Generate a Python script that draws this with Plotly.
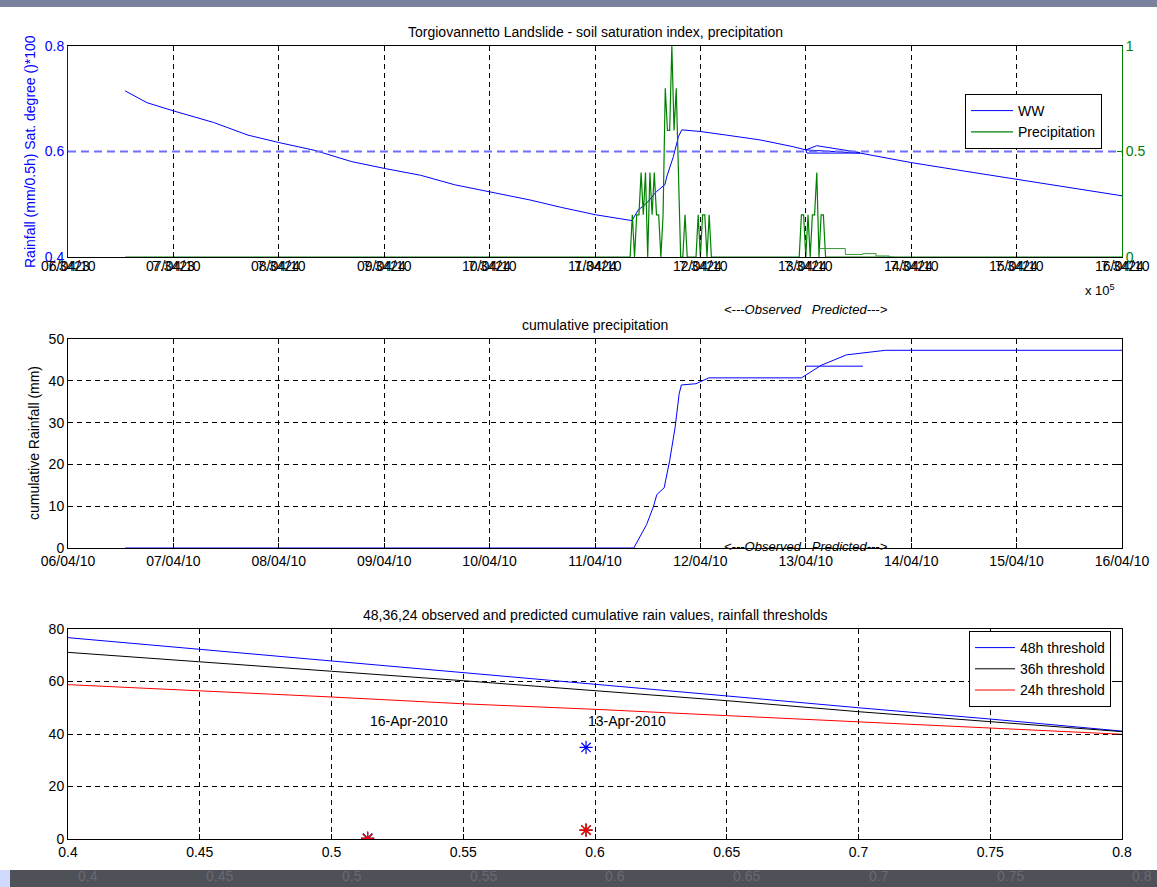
import plotly.graph_objects as go
import pandas as pd

FONT = "Liberation Sans Narrow, Liberation Sans, Arial, sans-serif"

# ---------------- DATA ----------------
day_ticks = ["2010-04-06", "2010-04-07", "2010-04-08", "2010-04-09", "2010-04-10", "2010-04-11",
             "2010-04-12", "2010-04-13", "2010-04-14", "2010-04-15", "2010-04-16"]
day_labels = ["06/04/10", "07/04/10", "08/04/10", "09/04/10", "10/04/10", "11/04/10",
              "12/04/10", "13/04/10", "14/04/10", "15/04/10", "16/04/10"]
datenum_labels = ["7.3423", "7.3423", "7.3424", "7.3424", "7.3424", "7.3424",
                  "7.3424", "7.3424", "7.3424", "7.3424", "7.3424"]
sat_ticks = [0.4, 0.6, 0.8]
rain_ticks = [0, 0.5, 1]

# soil saturation index (WW)
ww_time = ["2010-04-06 13:00", "2010-04-06 18:00", "2010-04-07 00:00", "2010-04-07 09:10",
           "2010-04-07 17:00", "2010-04-08 00:00", "2010-04-08 08:15", "2010-04-08 16:30",
           "2010-04-09 00:00", "2010-04-09 08:15", "2010-04-09 16:00", "2010-04-10 00:00",
           "2010-04-10 09:15", "2010-04-10 16:20", "2010-04-11 00:10", "2010-04-11 08:25",
           "2010-04-11 09:50", "2010-04-11 11:45", "2010-04-11 14:00", "2010-04-11 15:55",
           "2010-04-11 16:20", "2010-04-11 17:50", "2010-04-11 19:00", "2010-04-11 19:45",
           "2010-04-11 23:55", "2010-04-12 06:00", "2010-04-12 13:35", "2010-04-12 21:10",
           "2010-04-13 00:00", "2010-04-13 12:20", "2010-04-14 00:00", "2010-04-14 12:00",
           "2010-04-15 00:00", "2010-04-15 12:00", "2010-04-16 00:00"]
ww_value = [0.715, 0.6925, 0.677, 0.655, 0.631, 0.617, 0.602, 0.581,
            0.568, 0.555, 0.537, 0.524, 0.508, 0.494, 0.480, 0.469,
            0.489, 0.502, 0.524, 0.537, 0.552, 0.590, 0.628, 0.641,
            0.638, 0.631, 0.622, 0.609, 0.603, 0.597, 0.579, 0.563,
            0.547, 0.531, 0.516]
ww_pred_upper_time = ["2010-04-13 00:00", "2010-04-13 02:30", "2010-04-13 07:45", "2010-04-13 12:20"]
ww_pred_upper_value = [0.603, 0.611, 0.604, 0.598]
ww_pred_lower_time = ["2010-04-13 00:00", "2010-04-13 00:15", "2010-04-13 12:20"]
ww_pred_lower_value = [0.603, 0.597, 0.597]

# half-hourly precipitation (mm/0.5h), zero outside the rain blocks
precip_first = "2010-04-06 13:00"
precip_last = "2010-04-16 00:00"
precip_block_start = ["2010-04-11 08:30", "2010-04-11 23:30", "2010-04-12 23:00"]
precip_block_values = [
    [0.2, 0, 0.2, 0.2, 0.4, 0.2, 0.4, 0, 0.4, 0.2, 0.4, 0.2, 0.2, 0, 0.2,
     0.8, 0.6, 0.6, 1.0, 0.6, 0.8, 0.4, 0, 0, 0.2, 0],
    [0.2, 0, 0.2, 0.2, 0, 0.2, 0],
    [0.2, 0.2, 0, 0.2, 0, 0.2, 0.2, 0.4, 0, 0.2, 0.2, 0],
]
# predicted precipitation tail
precip_pred_time = ["2010-04-13 03:00", "2010-04-13 09:00", "2010-04-13 13:00",
                    "2010-04-13 16:00", "2010-04-13 19:00", "2010-04-13 20:00"]
precip_pred_value = [0.04, 0.012, 0.016, 0.005, 0.0, 0.0]

# cumulative precipitation (mm)
cum_time = ["2010-04-06 13:00", "2010-04-11 08:50", "2010-04-11 11:45", "2010-04-11 13:20",
            "2010-04-11 14:05", "2010-04-11 15:45", "2010-04-11 17:00", "2010-04-11 18:15",
            "2010-04-11 19:10", "2010-04-11 19:40", "2010-04-11 23:00", "2010-04-12 01:55",
            "2010-04-12 23:00", "2010-04-13 01:05", "2010-04-13 03:30", "2010-04-13 09:15",
            "2010-04-13 18:10", "2010-04-16 00:00"]
cum_value = [0, 0, 5.6, 10.0, 12.8, 14.4, 20.9, 28.9, 36.9, 39.0, 39.3, 40.7,
             40.7, 42.1, 43.7, 46.2, 47.3, 47.3]
cum_pred_time = ["2010-04-13 00:00", "2010-04-13 13:00"]
cum_pred_value = [43.5, 43.5]

# rainfall thresholds vs saturation
sat_degree = [0.40, 0.45, 0.50, 0.55, 0.60, 0.65, 0.70, 0.75, 0.80]
sat_labels = ["0.4", "0.45", "0.5", "0.55", "0.6", "0.65", "0.7", "0.75", "0.8"]
thr_48h = [76.7, 72.3, 67.8, 63.4, 59.0, 54.5, 50.0, 45.7, 41.1]
thr_36h = [71.1, 67.4, 63.9, 60.3, 56.5, 52.7, 48.5, 44.7, 40.9]
thr_24h = [58.8, 56.5, 54.1, 51.5, 49.4, 47.0, 44.6, 42.2, 39.9]

# observed / predicted cumulative rain points
pt_labels = ["16-Apr-2010", "13-Apr-2010"]
pt_sat = [0.5137, 0.5966]
pt_48h = [0.2, 34.9]
pt_36h = [0.2, 3.4]
pt_24h = [0.2, 3.4]
label_height = 45

# ---------------- BUILD ----------------
full_idx = pd.date_range(precip_first, precip_last, freq="30min")
precip = pd.Series(0.0, index=full_idx)
for start, vals in zip(precip_block_start, precip_block_values):
    idx = pd.date_range(start, periods=len(vals), freq="30min")
    precip.loc[idx] = vals

BLUE, GREEN, RED = "#0000ff", "#008000", "#ff0000"

fig = go.Figure()
fig.add_trace(go.Scatter(x=ww_time, y=ww_value, mode="lines", name="WW",
                         line=dict(color=BLUE, width=1), xaxis="x", yaxis="y", legend="legend"))
fig.add_trace(go.Scatter(x=ww_pred_upper_time, y=ww_pred_upper_value, mode="lines", showlegend=False,
                         line=dict(color=BLUE, width=1), xaxis="x", yaxis="y"))
fig.add_trace(go.Scatter(x=ww_pred_lower_time, y=ww_pred_lower_value, mode="lines", showlegend=False,
                         line=dict(color=BLUE, width=1), xaxis="x", yaxis="y"))
fig.add_trace(go.Scatter(x=precip.index, y=precip.values, mode="lines", name="Precipitation",
                         line=dict(color=GREEN, width=1.2), xaxis="x", yaxis="y4", legend="legend"))
fig.add_trace(go.Scatter(x=precip_pred_time, y=precip_pred_value, mode="lines", showlegend=False,
                         line=dict(color="#3a9a3a", width=1, shape="hv"), xaxis="x", yaxis="y4"))

fig.add_trace(go.Scatter(x=cum_time, y=cum_value, mode="lines", showlegend=False,
                         line=dict(color=BLUE, width=1), xaxis="x2", yaxis="y2"))
fig.add_trace(go.Scatter(x=cum_pred_time, y=cum_pred_value, mode="lines", showlegend=False,
                         line=dict(color=BLUE, width=1), xaxis="x2", yaxis="y2"))

for name, vals, col in [("48h threshold", thr_48h, BLUE), ("36h threshold", thr_36h, "#000000"),
                        ("24h threshold", thr_24h, RED)]:
    fig.add_trace(go.Scatter(x=sat_degree, y=vals, mode="lines", name=name,
                             line=dict(color=col, width=1), xaxis="x3", yaxis="y3", legend="legend2"))
for vals, col in [(pt_48h, BLUE), (pt_36h, "#000000"), (pt_24h, RED)]:
    fig.add_trace(go.Scatter(x=pt_sat, y=vals, mode="markers", showlegend=False,
                             marker=dict(symbol="asterisk-open", size=11, color=col,
                                         line=dict(color=col, width=1.2)),
                             xaxis="x3", yaxis="y3"))

grid = dict(showgrid=True, gridcolor="black", gridwidth=1, griddash="5px,4px")
common = dict(showline=True, linecolor="black", linewidth=1, ticks="inside", ticklen=5,
              tickcolor="black", zeroline=False, tickfont=dict(size=14, color="black"))

D1 = [1 - 257 / 887, 1 - 46 / 887]
D2 = [1 - 548 / 887, 1 - 339 / 887]
D3 = [1 - 839 / 887, 1 - 629 / 887]

fig.update_layout(
    width=1157, height=887,
    margin=dict(l=68, r=35, t=0, b=0, autoexpand=False),
    paper_bgcolor="white", plot_bgcolor="white",
    font=dict(family=FONT, size=14, color="black"),
    xaxis=dict(domain=[0, 1], anchor="y", type="date", range=[day_ticks[0], day_ticks[-1]],
               tickvals=day_ticks, showticklabels=False, mirror="ticks", **grid, **common),
    yaxis=dict(domain=D1, anchor="x", range=[0.4, 0.8], tickvals=sat_ticks,
               ticktext=["0.4", "0.6", "0.8"], showline=True, linecolor=BLUE, ticks="inside",
               ticklen=5, tickcolor=BLUE, zeroline=False, tickfont=dict(size=14, color=BLUE),
               showgrid=False),
    yaxis4=dict(overlaying="y", anchor="x", side="right", range=[0, 1], tickvals=rain_ticks,
                ticktext=["0", "0.5", "1"], showline=True, linecolor=GREEN, ticks="inside",
                ticklen=5, tickcolor=GREEN, zeroline=False, showgrid=False,
                tickfont=dict(size=14, color=GREEN)),
    xaxis2=dict(domain=[0, 1], anchor="y2", type="date", range=[day_ticks[0], day_ticks[-1]],
                tickvals=day_ticks, ticktext=day_labels, mirror="ticks", **grid, **common),
    yaxis2=dict(domain=D2, anchor="x2", range=[0, 50], tickvals=[0, 10, 20, 30, 40, 50],
                mirror="ticks", **grid, **common),
    xaxis3=dict(domain=[0, 1], anchor="y3", range=[0.4, 0.8], tickvals=sat_degree,
                ticktext=sat_labels, mirror="ticks", **grid, **common),
    yaxis3=dict(domain=D3, anchor="x3", range=[0, 80], tickvals=[0, 20, 40, 60, 80],
                mirror="ticks", **grid, **common),
    legend=dict(x=(965 - 68) / 1054, y=1 - 94 / 887, xanchor="left", yanchor="top",
                bordercolor="black", borderwidth=1, bgcolor="white", itemwidth=42,
                font=dict(size=14, color="black"), tracegroupgap=0),
    legend2=dict(x=(969 - 68) / 1054, y=1 - 631 / 887, xanchor="left", yanchor="top",
                 bordercolor="black", borderwidth=1, bgcolor="white", itemwidth=40,
                 font=dict(size=14, color="black"), tracegroupgap=0),
)

# blue dashed y-grid of the saturation axis (MATLAB grid takes the axis colour)
for yv in sat_ticks[1:-1]:
    fig.add_shape(type="line", xref="x domain", yref="y", x0=0, x1=1, y0=yv, y1=yv,
                  line=dict(color="#6e6eff", width=2, dash="8px,5px"), layer="above")

ann = []
# panel titles
ann.append(dict(text="Torgiovannetto Landslide - soil saturation index, precipitation",
                x=0.5, y=1 - 32 / 887))
ann.append(dict(text="cumulative precipitation", x=0.5, y=1 - 325 / 887))
ann.append(dict(text="48,36,24 observed and predicted cumulative rain values, rainfall thresholds",
                x=0.5, y=1 - 615 / 887))
for a in ann:
    a.update(xref="paper", yref="paper", showarrow=False, xanchor="center", yanchor="middle",
             font=dict(size=14, color="black"))

# axis labels
ann.append(dict(text="Rainfall (mm/0.5h) Sat. degree ()*100", textangle=-90, xref="paper", yref="paper",
                x=-38 / 1054, y=1 - 152 / 887, showarrow=False, xanchor="center", yanchor="middle",
                font=dict(size=14, color=BLUE)))
ann.append(dict(text="cumulative Rainfall (mm)", textangle=-90, xref="paper", yref="paper",
                x=-34 / 1054, y=1 - 443 / 887, showarrow=False, xanchor="center", yanchor="middle",
                font=dict(size=14, color="black")))

# panel 1 overlapped tick labels (date + datenum), as in the reference
for t, lab, num in zip(day_ticks, day_labels, datenum_labels):
    ann.append(dict(text=lab, x=t, xref="x", yref="paper", y=1 - 266 / 887, showarrow=False,
                    xanchor="center", yanchor="middle", font=dict(size=14, color="black")))
    ann.append(dict(text=num, x=t, xref="x", yref="paper", y=1 - 266 / 887, showarrow=False,
                    xanchor="center", yanchor="middle", font=dict(size=14, color="black")))
ann.append(dict(text="x 10<sup>5</sup>", xref="paper", yref="paper", x=(1100 - 68) / 1054,
                y=1 - 290 / 887, showarrow=False, xanchor="center", yanchor="middle",
                font=dict(size=13, color="black")))

# observed / predicted markers
obs_text = "<i>&lt;---Observed   Predicted---&gt;</i>"
ann.append(dict(text=obs_text, x="2010-04-13", xref="x", yref="paper", y=1 - 309 / 887,
                showarrow=False, xanchor="center", yanchor="middle", font=dict(size=13, color="black")))
ann.append(dict(text=obs_text, x="2010-04-13", xref="x2", yref="paper", y=1 - 546 / 887,
                showarrow=False, xanchor="center", yanchor="middle", font=dict(size=13, color="black")))

# date labels next to points
for lab, xs in zip(pt_labels, pt_sat):
    ann.append(dict(text=lab, x=xs, y=label_height, xref="x3", yref="y3", showarrow=False,
                    xanchor="left", yanchor="middle", font=dict(size=14, color="black")))

# ghost labels in bottom band
for xs, lab in zip(sat_degree, sat_labels):
    ann.append(dict(text=lab, x=xs, xref="x3", yref="paper", y=1 - 876 / 887, xshift=20,
                    showarrow=False, xanchor="center", yanchor="middle",
                    font=dict(size=14, color="#686a72")))

fig.update_layout(annotations=ann)

# window chrome: top bar and bottom band
fig.add_shape(type="rect", xref="paper", yref="paper", x0=-0.1, x1=1.1, y0=1 - 7 / 887, y1=1.01,
              fillcolor="#7a829e", line=dict(width=0), layer="below")
fig.add_shape(type="rect", xref="paper", yref="paper", x0=-0.1, x1=1.1, y0=-0.01, y1=1 - 870 / 887,
              fillcolor="#4f5158", line=dict(width=0), layer="below")
fig.add_shape(type="rect", xref="paper", yref="paper", x0=-0.1, x1=(10 - 68) / 1054, y0=-0.01,
              y1=1 - 870 / 887, fillcolor="#d0dafc", line=dict(width=0), layer="below")

fig.write_html("out.html", config={"displayModeBar": False},
               post_script="document.body.style.margin='0';")
